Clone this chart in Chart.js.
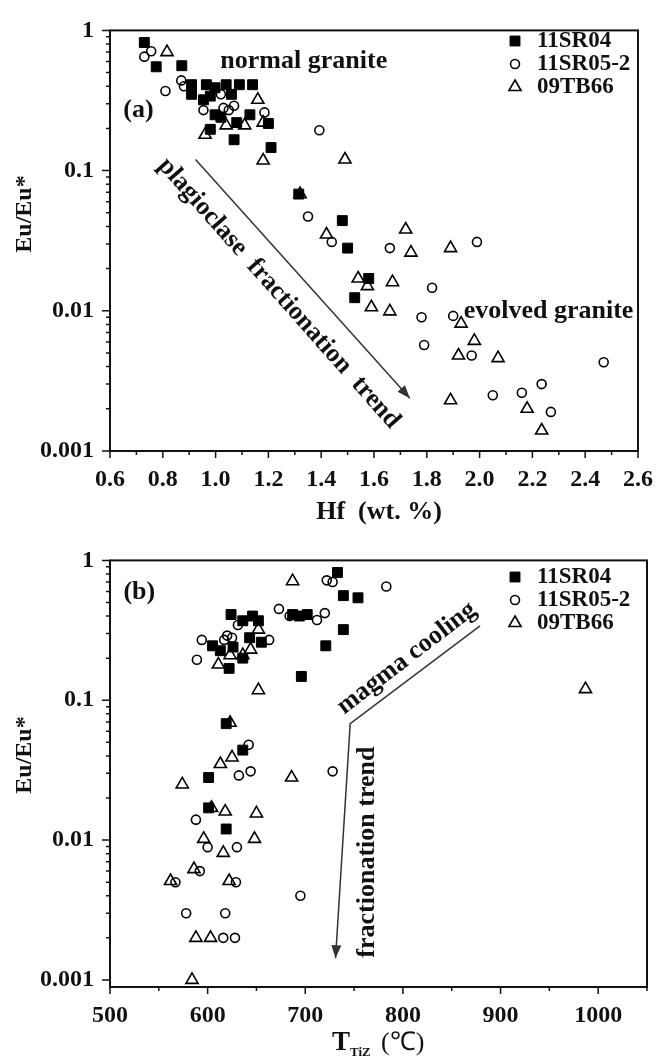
<!DOCTYPE html>
<html>
<head>
<meta charset="utf-8">
<script src="https://cdn.jsdelivr.net/npm/chart.js@4.4.1/dist/chart.umd.min.js"></script>
<style>
  body { margin: 0; background: #fff; width: 667px; height: 1057px; position: relative; overflow: hidden; }
  canvas { position: absolute; left: 0; }
  #hfChart { top: 0; }
  #tzChart { top: 530px; }
</style>
</head>
<body>
<canvas id="hfChart" width="667" height="530"></canvas>
<canvas id="tzChart" width="667" height="527"></canvas>
<script>
// sample names
const samples = ['11SR04', '11SR05-2', '09TB66'];

// (a) Hf (wt.%) vs Eu/Eu*
const hf04 = [[0.73,0.82],[0.775,0.55],[0.872,0.56],[0.909,0.41],[0.909,0.35],[0.965,0.41],[0.954,0.32],[0.998,0.39],
  [1.04,0.41],[1.09,0.41],[1.14,0.41],[1.06,0.35],[0.98,0.34],[0.998,0.25],[1.02,0.24],[0.98,0.197],[1.08,0.22],
  [1.13,0.25],[1.07,0.166],[1.20,0.217],[1.21,0.146],[1.315,0.068],[1.48,0.044],[1.50,0.028],[1.58,0.017],[1.527,0.0124]];
const hf05 = [[0.756,0.71],[0.73,0.65],[0.81,0.37],[0.87,0.44],[0.88,0.40],[0.954,0.27],[1.02,0.35],[1.03,0.28],
  [1.05,0.27],[1.07,0.29],[1.185,0.26],[1.393,0.194],[1.35,0.047],[1.44,0.031],[1.66,0.028],[1.99,0.031],[1.82,0.0146],
  [1.78,0.009],[1.90,0.0092],[1.79,0.0057],[1.97,0.0048],[2.47,0.0043],[2.235,0.0030],[2.05,0.0025],[2.16,0.0026],[2.27,0.0019]];
const hf66 = [[0.816,0.70],[1.16,0.32],[0.96,0.18],[1.04,0.21],[1.11,0.21],[1.18,0.22],[1.18,0.118],[1.49,0.12],
  [1.32,0.068],[1.42,0.035],[1.72,0.038],[1.74,0.026],[1.89,0.028],[1.54,0.017],[1.575,0.015],[1.67,0.016],[1.59,0.0106],
  [1.66,0.0099],[1.93,0.0081],[1.98,0.0061],[1.92,0.0048],[2.07,0.0046],[1.89,0.0023],[2.18,0.0020],[2.235,0.0014]];

// (b) Ti-in-zircon temperature (°C) vs Eu/Eu*
const tz04 = [[733,0.82],[739,0.56],[754,0.54],[624,0.41],[646,0.40],[636,0.37],[652,0.37],[605,0.245],[613,0.226],
  [622,0.169],[636,0.20],[643,0.28],[655,0.26],[626,0.24],[687,0.41],[694,0.40],[702,0.41],[739,0.32],[721,0.245],
  [696,0.148],[619,0.068],[636,0.044],[601,0.028],[601,0.017],[619,0.012]];
const tz05 = [[722,0.72],[728,0.70],[673,0.45],[684,0.40],[712,0.375],[720,0.42],[594,0.27],[589,0.195],[617,0.27],
  [620,0.29],[625,0.28],[631,0.345],[663,0.27],[642,0.048],[783,0.65],[632,0.029],[644,0.031],[728,0.031],[588,0.014],
  [600,0.0089],[630,0.0089],[592,0.0060],[567,0.0050],[629,0.0050],[695,0.0040],[578,0.0030],[618,0.0030],[616,0.0020],[628,0.0020]];
const tz66 = [[687,0.71],[652,0.32],[611,0.18],[623,0.21],[636,0.21],[644,0.23],[652,0.118],[623,0.069],[613,0.035],
  [625,0.039],[987,0.12],[574,0.025],[686,0.028],[604,0.017],[618,0.016],[650,0.0155],[596,0.0102],[648,0.0102],
  [616,0.0081],[586,0.0062],[562,0.0051],[622,0.0051],[588,0.0020],[603,0.0020],[584,0.001]];

// labelled ticks
const hfMajor = [0.6, 0.8, 1.0, 1.2, 1.4, 1.6, 1.8, 2.0, 2.2, 2.4, 2.6];
const tzMajor = [500, 600, 700, 800, 900, 1000];
const euMajor = [0.001, 0.01, 0.1, 1];

const SERIF = "'Liberation Serif', 'Times New Roman', serif";
const INK = '#111';

function text(ctx, s, x, y, size, rot, opt) {
  opt = opt || {};
  ctx.save();
  ctx.translate(x, y);
  ctx.rotate((rot || 0) * Math.PI / 180);
  ctx.font = (opt.weight || 'bold') + ' ' + size + 'px ' + SERIF;
  ctx.textAlign = opt.align || 'center';
  ctx.textBaseline = opt.baseline || 'middle';
  ctx.fillStyle = INK;
  ctx.fillText(s, 0, 0);
  ctx.restore();
}

// box, minor/major tick marks, arrows, notes, legend and axis titles
const frame = {
  id: 'frame',
  afterDraw(chart, args, o) {
    const { ctx, chartArea: a, scales: { x, y } } = chart;
    ctx.save();
    ctx.strokeStyle = INK;
    ctx.lineWidth = 2;
    ctx.strokeRect(a.left, a.top, a.right - a.left, a.bottom - a.top);

    ctx.lineWidth = 1.5;
    ctx.beginPath();
    x.ticks.forEach(t => {
      const px = x.getPixelForValue(t.value);
      const len = t.label ? 7 : 4;
      ctx.moveTo(px, a.bottom);
      ctx.lineTo(px, a.bottom + len);
    });
    y.ticks.forEach(t => {
      const m = t.value / Math.pow(10, Math.floor(Math.log10(t.value) + 1e-9));
      if (Math.abs(m - Math.round(m)) > 1e-6) return;
      const py = y.getPixelForValue(t.value);
      const len = Math.round(m) === 1 ? 8 : 4;
      ctx.moveTo(a.left - len, py);
      ctx.lineTo(a.left, py);
    });
    ctx.stroke();

    // trend arrows
    ctx.strokeStyle = '#333';
    ctx.fillStyle = '#333';
    ctx.lineWidth = 1.5;
    (o.arrows || []).forEach(path => {
      const pts = path.map(p => [x.getPixelForValue(p[0]), y.getPixelForValue(p[1])]);
      ctx.beginPath();
      pts.forEach((p, i) => i ? ctx.lineTo(p[0], p[1]) : ctx.moveTo(p[0], p[1]));
      ctx.stroke();
      const [x1, y1] = pts[pts.length - 2], [x2, y2] = pts[pts.length - 1];
      const ang = Math.atan2(y2 - y1, x2 - x1), L = 13, W = 5;
      ctx.beginPath();
      ctx.moveTo(x2, y2);
      ctx.lineTo(x2 - L * Math.cos(ang) + W * Math.sin(ang), y2 - L * Math.sin(ang) - W * Math.cos(ang));
      ctx.lineTo(x2 - L * Math.cos(ang) - W * Math.sin(ang), y2 - L * Math.sin(ang) + W * Math.cos(ang));
      ctx.closePath();
      ctx.fill();
    });

    (o.notes || []).forEach(n => {
      text(ctx, n.text, x.getPixelForValue(n.at[0]), y.getPixelForValue(n.at[1]), n.size, n.rot);
    });

    // legend
    const lg = o.legend;
    chart.data.datasets.forEach((ds, i) => {
      const cy = lg.y + i * lg.gap;
      ctx.fillStyle = ds.backgroundColor;
      ctx.strokeStyle = ds.borderColor;
      ctx.lineWidth = ds.borderWidth;
      Chart.helpers.drawPoint(ctx, { pointStyle: ds.pointStyle, radius: ds.pointRadius, borderWidth: ds.borderWidth, rotation: 0 }, lg.x, cy);
      text(ctx, ds.label, lg.x + 22, cy, 23, 0, { align: 'left' });
    });

    (o.titles || []).forEach(t => text(ctx, t.text, t.x, t.y, t.size, t.rot, t));
    ctx.restore();
  }
};

function series(d04, d05, d66) {
  const pts = d => d.map(p => ({ x: p[0], y: p[1] }));
  return [
    { label: samples[0], data: pts(d04), pointStyle: 'rect', pointRadius: 7, backgroundColor: '#000', borderColor: '#000', borderWidth: 1 },
    { label: samples[1], data: pts(d05), pointStyle: 'circle', pointRadius: 4.5, backgroundColor: 'rgba(0,0,0,0)', borderColor: '#000', borderWidth: 1.6 },
    { label: samples[2], data: pts(d66), pointStyle: 'triangle', pointRadius: 7, backgroundColor: 'rgba(0,0,0,0)', borderColor: '#000', borderWidth: 1.6 }
  ];
}

function isIn(list, v) {
  return list.some(m => Math.abs(m - v) < 1e-9 * Math.max(1, Math.abs(m)));
}

const tickFont = { family: SERIF, size: 24, weight: 'bold' };

function makeChart(id, cfg) {
  return new Chart(document.getElementById(id), {
    type: 'scatter',
    data: { datasets: cfg.datasets },
    options: {
      responsive: false,
      animation: false,
      events: [],
      layout: { padding: { top: cfg.top, right: 20, left: 0, bottom: 0 } },
      plugins: { legend: { display: false }, tooltip: { enabled: false }, frame: cfg.frame },
      scales: {
        x: {
          type: 'linear', min: cfg.xMin, max: cfg.xMax,
          grid: { display: false, drawTicks: false }, border: { display: false },
          ticks: {
            stepSize: cfg.xStep, autoSkip: false, maxRotation: 0, padding: 14, color: INK, font: tickFont,
            callback: v => isIn(cfg.xMajor, v) ? cfg.xFmt(v) : ''
          },
          afterFit: s => { s.height = cfg.xHeight; }
        },
        y: {
          type: 'logarithmic', min: cfg.yMin, max: 1,
          grid: { display: false, drawTicks: false }, border: { display: false },
          ticks: {
            autoSkip: false, padding: 16, color: INK, font: tickFont,
            callback: v => isIn(euMajor, v) ? String(v) : ''
          },
          afterFit: s => { s.width = 110; }
        }
      }
    },
    plugins: [frame]
  });
}

makeChart('hfChart', {
  datasets: series(hf04, hf05, hf66),
  top: 21, xHeight: 79, xMin: 0.6, xMax: 2.6, xStep: 0.1, xMajor: hfMajor, yMin: 0.001,
  xFmt: v => v.toFixed(1),
  frame: {
    arrows: [[[0.924, 0.12], [1.736, 0.00238]]],
    notes: [
      { text: '(a)', at: [0.708, 0.268], size: 26 },
      { text: 'normal granite', at: [1.334, 0.598], size: 26 },
      { text: 'evolved granite', at: [2.261, 0.0099], size: 26 },
      { text: 'plagioclase  fractionation  trend', at: [1.24, 0.0133], size: 26, rot: 48.5 }
    ],
    legend: { x: 515, y: 41, gap: 23 },
    titles: [
      { text: 'Eu/Eu*', x: 25, y: 214, size: 24, rot: -90 },
      { text: 'Hf  (wt. %)', x: 379, y: 512, size: 26 }
    ]
  }
});

makeChart('tzChart', {
  datasets: series(tz04, tz05, tz66),
  top: 27, xHeight: 70, xMin: 500, xMax: 1050, xStep: 50, xMajor: tzMajor, yMin: 0.00089,
  xFmt: v => String(v),
  frame: {
    arrows: [[[879, 0.34], [746, 0.068], [731, 0.00143]]],
    notes: [
      { text: '(b)', at: [530, 0.593], size: 26 },
      { text: 'magma cooling', at: [804, 0.2], size: 26, rot: -37.5 },
      { text: 'fractionation trend', at: [763, 0.0082], size: 26, rot: -90 }
    ],
    legend: { x: 515, y: 47, gap: 23 },
    titles: [
      { text: 'Eu/Eu*', x: 25, y: 225, size: 24, rot: -90 },
      { text: 'T', x: 332, y: 520, size: 27, align: 'left', baseline: 'alphabetic' },
      { text: 'TiZ', x: 350, y: 526, size: 13, align: 'left', baseline: 'alphabetic' },
      { text: '(\u2103)', x: 381, y: 520, size: 26, align: 'left', baseline: 'alphabetic', weight: 'normal' }
    ]
  }
});
</script>
</body>
</html>
